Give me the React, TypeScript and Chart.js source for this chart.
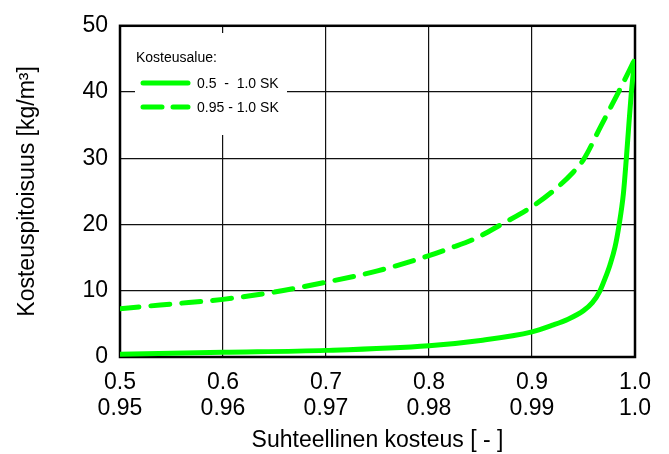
import React, { useEffect, useRef } from "react";
import { Chart, registerables } from "chart.js";

Chart.register(...registerables);

const xTicksTop = ["0.5", "0.6", "0.7", "0.8", "0.9", "1.0"];
const xTicksBottom = ["0.95", "0.96", "0.97", "0.98", "0.99", "1.0"];

const solidX = [0.5, 0.6, 0.7, 0.8, 0.85, 0.9, 0.92, 0.935, 0.95, 0.9586, 0.966, 0.9708, 0.9757, 0.9806, 0.9844, 0.9887, 0.9916, 0.994, 0.9965, 0.9998];
const solidY = [0.4, 0.7, 1.0, 1.7, 2.5, 3.8, 4.8, 5.7, 7.0, 8.2, 10, 11.8, 13.9, 16.6, 19.8, 24.6, 30, 35, 40, 45];

const dashedX = [0.5, 0.55, 0.6, 0.65, 0.7, 0.75, 0.8, 0.82, 0.845, 0.87, 0.9, 0.92, 0.94, 0.95, 0.967, 0.984, 1.0];
const dashedY = [7.3, 8.0, 8.7, 9.8, 11.3, 13.0, 15.3, 16.4, 17.9, 20, 22.7, 25.0, 27.9, 29.8, 34.9, 40, 45];

const seriesLabels = ["0.5  -  1.0 SK", "0.95 - 1.0 SK"];
const legendTitle = "Kosteusalue:";
const xTitle = "Suhteellinen kosteus [ - ]";
const yTitle = "Kosteuspitoisuus [kg/m³]";

const FONT = "'Liberation Sans', Arial, sans-serif";
const GREEN = "#00ff00";

const framePlugin = {
  id: "frame",
  beforeDatasetsDraw(chart: any) {
    const { ctx, chartArea } = chart;
    ctx.save();
    ctx.strokeStyle = "#000";
    ctx.lineWidth = 2.5;
    ctx.strokeRect(chartArea.left, chartArea.top, chartArea.right - chartArea.left, chartArea.bottom - chartArea.top);
    ctx.restore();
  },
};

const legendPlugin = {
  id: "innerLegend",
  afterDatasetsDraw(chart: any) {
    const { ctx } = chart;
    ctx.save();
    ctx.fillStyle = "#fff";
    ctx.fillRect(135, 33, 152, 102);
    ctx.fillStyle = "#000";
    ctx.font = `14px ${FONT}`;
    ctx.textBaseline = "middle";
    ctx.textAlign = "left";
    ctx.fillText(legendTitle, 136, 58);
    chart.data.datasets.forEach((ds: any, i: number) => {
      const y = 83 + i * 24;
      ctx.save();
      ctx.strokeStyle = ds.borderColor;
      ctx.lineWidth = ds.borderWidth;
      ctx.lineCap = "round";
      ctx.setLineDash(ds.borderDash && ds.borderDash.length ? [19, 11] : []);
      ctx.beginPath();
      ctx.moveTo(143, y);
      ctx.lineTo(188, y);
      ctx.stroke();
      ctx.restore();
      ctx.fillStyle = "#000";
      ctx.fillText(ds.label, 197, y + 1);
    });
    ctx.restore();
  },
};

export default function App() {
  const ref = useRef<HTMLCanvasElement | null>(null);
  useEffect(() => {
    if (!ref.current) return;
    const chart = new Chart(ref.current, {
      type: "line",
      data: {
        datasets: [
          {
            label: seriesLabels[0],
            data: solidX.map((x, i) => ({ x, y: solidY[i] })),
            borderColor: GREEN,
            backgroundColor: GREEN,
            borderWidth: 5,
            pointRadius: 0,
            cubicInterpolationMode: "monotone",
            fill: false,
          },
          {
            label: seriesLabels[1],
            data: dashedX.map((x, i) => ({ x, y: dashedY[i] })),
            borderColor: GREEN,
            backgroundColor: GREEN,
            borderWidth: 5,
            borderDash: [19, 12],
            borderCapStyle: "round",
            pointRadius: 0,
            cubicInterpolationMode: "monotone",
            fill: false,
          },
        ],
      },
      options: {
        responsive: false,
        animation: false,
        layout: { padding: { left: 0, right: 34, top: 17, bottom: 0 } },
        plugins: { legend: { display: false }, tooltip: { enabled: false } },
        scales: {
          x: {
            type: "linear",
            min: 0.5,
            max: 1.0,
            afterFit: (s: any) => {
              s.height = 97;
            },
            ticks: {
              stepSize: 0.1,
              color: "#000",
              padding: 13,
              font: { family: FONT, size: 23, lineHeight: 1.13 },
              maxRotation: 0,
              callback: (_v: any, i: number) => [xTicksTop[i], xTicksBottom[i]],
            },
            grid: { color: "#111", lineWidth: 1.2, drawTicks: false },
            border: { display: false },
            title: {
              display: true,
              text: xTitle,
              color: "#000",
              font: { family: FONT, size: 23, lineHeight: 1.2 },
              padding: { top: 0, bottom: 0 },
            },
          },
          y: {
            min: 0,
            max: 50,
            afterFit: (s: any) => {
              s.width = 120;
            },
            ticks: {
              stepSize: 10,
              color: "#000",
              padding: 12,
              font: { family: FONT, size: 23 },
            },
            grid: { color: "#111", lineWidth: 1.2, drawTicks: false },
            border: { display: false },
            title: {
              display: true,
              text: yTitle,
              color: "#000",
              font: { family: FONT, size: 23, lineHeight: 1.2 },
              padding: { top: 14, bottom: 0 },
            },
          },
        },
      },
      plugins: [framePlugin, legendPlugin],
    });
    return () => chart.destroy();
  }, []);
  return (
    <div style={{ position: "absolute", left: 0, top: 0, width: 669, height: 454 }}>
      <canvas ref={ref} width={669} height={454} style={{ display: "block" }} />
    </div>
  );
}
